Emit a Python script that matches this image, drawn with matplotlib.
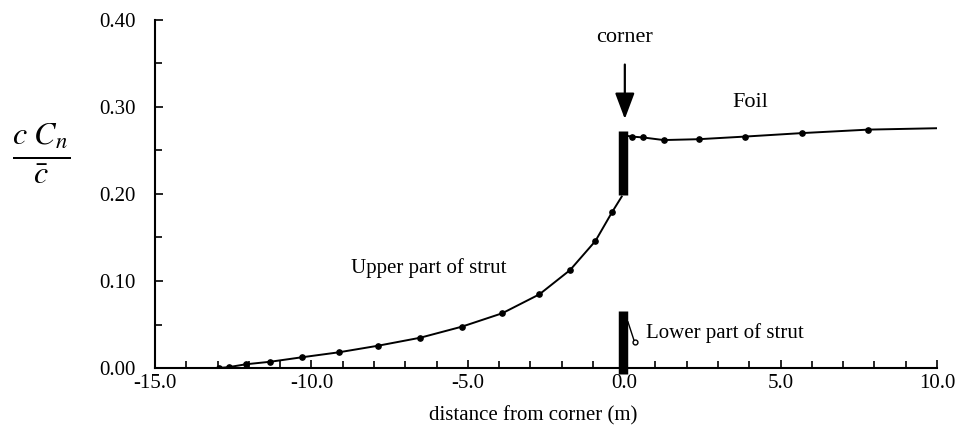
import matplotlib
matplotlib.use("Agg")
import matplotlib.pyplot as plt
from matplotlib.ticker import MultipleLocator, FormatStrFormatter

plt.rcParams['font.family'] = ['Liberation Serif', 'DejaVu Serif']
plt.rcParams['mathtext.fontset'] = 'stix'

# Upper part of strut
strut_x = [-12.95, -12.64, -12.09, -11.31, -10.31, -9.13, -7.87, -6.52, -5.19, -3.90, -2.71, -1.73, -0.92, -0.39]
strut_y = [0.000, 0.001, 0.0043, 0.0072, 0.0123, 0.018, 0.0256, 0.0348, 0.0475, 0.0629, 0.0847, 0.1126, 0.146, 0.179]
strut_end = (-0.08, 0.197)

# Foil
foil_x = [0.25, 0.60, 1.26, 2.39, 3.86, 5.68, 7.80]
foil_y = [0.266, 0.265, 0.262, 0.263, 0.266, 0.270, 0.274]
foil_end = (10.0, 0.2756)

# Lower part of strut
lower_x = [0.12, 0.33]
lower_y = [0.053, 0.030]

# Thick bars at the corner (y ranges)
bar_upper = (0.199, 0.272)
bar_lower = (-0.007, 0.065)

fig = plt.figure(figsize=(9.61, 4.38), dpi=100)
ax = fig.add_axes([155/961, 1-368/438, (937-155)/961, (368-20)/438])

ax.plot(strut_x + [strut_end[0]], strut_y + [strut_end[1]], color='black', lw=1.4,
        marker='o', ms=3.8, markevery=list(range(len(strut_x))))
ax.plot([0.05] + foil_x + [foil_end[0]], [0.267] + foil_y + [foil_end[1]], color='black', lw=1.4,
        marker='o', ms=3.8, markevery=list(range(1, len(foil_x) + 1)))
ax.plot(lower_x, lower_y, color='black', lw=1.0)
ax.plot(lower_x[-1:], lower_y[-1:], 'o', ms=3.5, mfc='white', mec='black', mew=1.0)

ax.vlines(-0.04, bar_upper[0], bar_upper[1], color='black', lw=6.8, zorder=5)
ax.vlines(-0.04, bar_lower[0], bar_lower[1], color='black', lw=6.8, zorder=5, clip_on=False)

ax.annotate('', xy=(0.02, 0.283), xytext=(0.02, 0.352),
            arrowprops=dict(arrowstyle='-|>,head_width=0.6,head_length=1.6', color='black', lw=1.6))
ax.text(0.02, 0.380, 'corner', ha='center', va='center', fontsize=16)
ax.text(4.03, 0.305, 'Foil', ha='center', va='center', fontsize=16)
ax.text(-6.25, 0.115, 'Upper part of strut', ha='center', va='center', fontsize=15)
ax.text(0.69, 0.040, 'Lower part of strut', ha='left', va='center', fontsize=15)

ax.set_xlim(-15, 10)
ax.set_ylim(0, 0.40)
ax.xaxis.set_major_locator(MultipleLocator(5))
ax.xaxis.set_minor_locator(MultipleLocator(1))
ax.yaxis.set_major_locator(MultipleLocator(0.1))
ax.yaxis.set_minor_locator(MultipleLocator(0.05))
ax.xaxis.set_major_formatter(FormatStrFormatter('%.1f'))
ax.yaxis.set_major_formatter(FormatStrFormatter('%.2f'))
ax.tick_params(which='both', direction='in', width=1.2, labelsize=15, colors='black')
ax.tick_params(which='major', length=6)
ax.tick_params(which='minor', length=5)
ax.tick_params(axis='x', pad=4)
ax.tick_params(axis='y', pad=14)
for s in ['top', 'right']:
    ax.spines[s].set_visible(False)
for s in ['left', 'bottom']:
    ax.spines[s].set_linewidth(1.5)

ax.set_xlabel('distance from corner (m)', fontsize=15)
ax.xaxis.set_label_coords((533-155)/782, -0.11)
fig.text(41/961, 1-153/438, r'$\frac{c\ C_n}{\bar{c}}$', fontsize=33, ha='center', va='center')

fig.savefig('out.png', dpi=100)
